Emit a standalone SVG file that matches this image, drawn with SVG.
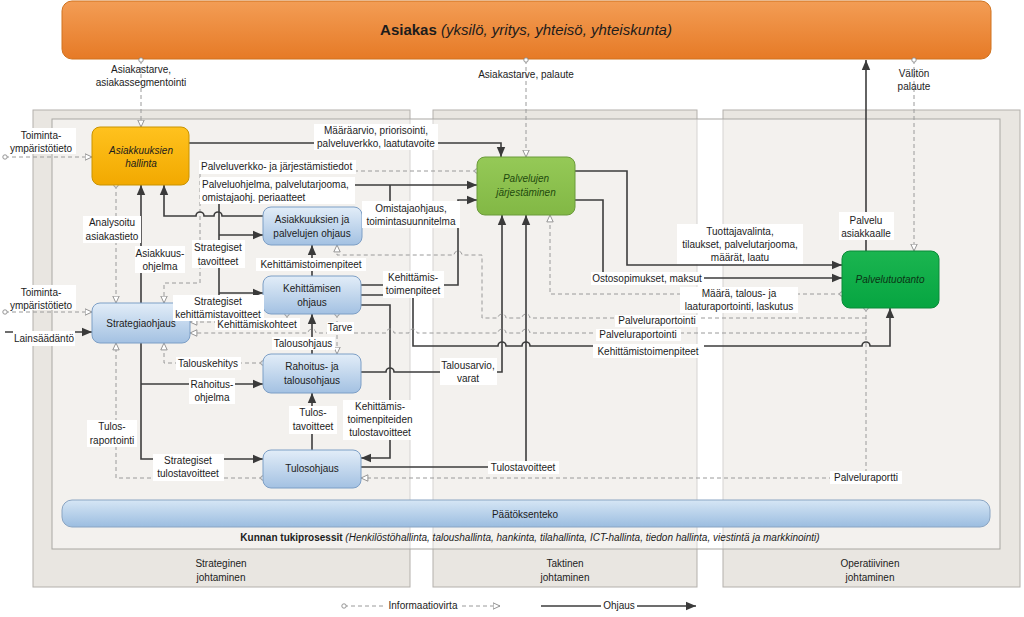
<svg xmlns="http://www.w3.org/2000/svg" width="1024" height="617" viewBox="0 0 1024 617">
<style>
text{font-family:"Liberation Sans",Arial,sans-serif;font-size:10px;fill:#1c1c1c;text-anchor:middle}
.st{text-anchor:start}
.c{fill:none;stroke:#3d3d3d;stroke-width:1.6;marker-end:url(#ah)}
.cn{fill:none;stroke:#3d3d3d;stroke-width:1.6}
.d{fill:none;stroke:#9a9a9a;stroke-width:1;stroke-dasharray:4 3;marker-start:url(#oc);marker-end:url(#ot)}
.de{fill:none;stroke:#9a9a9a;stroke-width:1;stroke-dasharray:4 3;marker-end:url(#ot)}
.lb{fill:#fff}
.bn{fill:url(#gb);stroke:#7d9fc6;stroke-width:1}
.it{font-style:italic}
</style>
<defs>
<marker id="ah" viewBox="0 0 10 10" refX="10" refY="5" markerWidth="10" markerHeight="10" markerUnits="userSpaceOnUse" orient="auto"><path d="M0,0.8 L10,5 L0,9.2 z" fill="#3a3a3a"/></marker>
<marker id="ot" viewBox="0 0 8 8" refX="7.5" refY="4" markerWidth="8" markerHeight="8" markerUnits="userSpaceOnUse" orient="auto"><path d="M0.6,0.8 L7.5,4 L0.6,7.2 z" fill="#fff" stroke="#8a8a8a" stroke-width="0.9"/></marker>
<marker id="oc" viewBox="0 0 6 6" refX="3" refY="3" markerWidth="6" markerHeight="6" markerUnits="userSpaceOnUse"><circle cx="3" cy="3" r="2.2" fill="#fff" stroke="#8a8a8a" stroke-width="0.9"/></marker>
<linearGradient id="go" x1="0" y1="0" x2="0" y2="1"><stop offset="0" stop-color="#f39d55"/><stop offset="1" stop-color="#e67a26"/></linearGradient>
<linearGradient id="gb" x1="0" y1="0" x2="0" y2="1"><stop offset="0" stop-color="#e2edf8"/><stop offset="1" stop-color="#a3c1e2"/></linearGradient>
<linearGradient id="gp" x1="0" y1="0" x2="0" y2="1"><stop offset="0" stop-color="#d6e6f5"/><stop offset="1" stop-color="#9bbde0"/></linearGradient>
<linearGradient id="gy" x1="0" y1="0" x2="0" y2="1"><stop offset="0" stop-color="#ffc21e"/><stop offset="1" stop-color="#f2a900"/></linearGradient>
<linearGradient id="gl" x1="0" y1="0" x2="0" y2="1"><stop offset="0" stop-color="#95c957"/><stop offset="1" stop-color="#82b845"/></linearGradient>
<linearGradient id="gg" x1="0" y1="0" x2="0" y2="1"><stop offset="0" stop-color="#1bb550"/><stop offset="1" stop-color="#06a541"/></linearGradient>
</defs>
<rect width="1024" height="617" fill="#fff"/>
<g id="panels">
<rect x="33" y="110" width="377" height="477" fill="#e9e6e1" stroke="#b3b0ab"/>
<rect x="433" y="110" width="264" height="477" fill="#e9e6e1" stroke="#b3b0ab"/>
<rect x="723" y="110" width="297" height="477" fill="#e9e6e1" stroke="#b3b0ab"/>
<rect x="52" y="119" width="948" height="430" fill="#fff" fill-opacity="0.45" stroke="#a9a7a3"/>
<text x="221" y="567">Strateginen</text><text x="221" y="581">johtaminen</text>
<text x="565" y="567">Taktinen</text><text x="565" y="581">johtaminen</text>
<text x="870" y="567">Operatiivinen</text><text x="870" y="581">johtaminen</text>
<text x="530" y="541" style="font-size:10px"><tspan font-weight="bold">Kunnan tukiprosessit</tspan><tspan class="it"> (Henkilöstöhallinta, taloushallinta, hankinta, tilahallinta, ICT-hallinta, tiedon hallinta, viestintä ja markkinointi)</tspan></text>
</g>
<g id="asiakas">
<rect x="62" y="1" width="929" height="58" rx="10" fill="url(#go)" stroke="#d0731f"/>
<text x="526" y="35" style="font-size:15px"><tspan font-weight="bold">Asiakas</tspan><tspan class="it"> (yksilö, yritys, yhteisö, yhteiskunta)</tspan></text>
</g>
<g id="paatoksenteko">
<rect x="62" y="500" width="928" height="27" rx="10" fill="url(#gp)" stroke="#8aa5c3"/>
<text x="525" y="518">Päätöksenteko</text>
</g>
<g id="connectors">
<path class="d" d="M141,60 V127"/>
<path class="d" d="M526,60 V157"/>
<path class="d" d="M914,60 V251"/>
<path class="c" d="M866,251 V60"/>
<path class="d" d="M5,157 H92"/>
<path class="d" d="M5,312 H92"/>
<path class="c" d="M5,332 H92"/>
<path class="c" d="M189,143 H501 V157"/>
<path class="d" d="M477,171 H200 V283 H164 V303"/>
<path class="d" d="M116,185 V303"/>
<path class="c" d="M141,303 V185"/>
<path class="c" d="M263,216 H222 a4,4 0 0 0 -8,0 H204 a4,4 0 0 0 -8,0 H164 V185"/>
<path class="c" d="M190,316 H219 V185 H477"/>
<path class="c" d="M219,235 H263"/>
<path class="c" d="M219,293 H263"/>
<path class="cn" d="M362,226 H390 V185"/>
<path class="c" d="M361,285 H458 V200 H477"/>
<path class="c" d="M312,276 V245"/>
<path class="c" d="M312,354 V314"/>
<path class="c" d="M312,450 V393"/>
<path class="d" d="M287,314 V322 H190"/>
<path class="d" d="M337,314 V354"/>
<path class="d" d="M263,363 H164 V343"/>
<path class="d" d="M263,478 H116 V343"/>
<path class="c" d="M141,343 V459 H263"/>
<path class="c" d="M141,384 H263"/>
<path class="c" d="M361,305 H390 V458 H361"/>
<path class="c" d="M361,295 H413 V346 H498 a4,4 0 0 1 8,0 H522 a4,4 0 0 1 8,0 H862 a4,4 0 0 1 8,0 H890 V308"/>
<path class="c" d="M361,372 H386 a4,4 0 0 1 8,0 H502 V215"/>
<path class="c" d="M361,467 H526 V215"/>
<path class="c" d="M575,171 H627 V265 H842"/>
<path class="c" d="M575,200 H603 V278 H842"/>
<path class="d" d="M842,294 H550 V215"/>
<path class="d" d="M866,308 V478 H361"/>
<path class="de" d="M866,318 H530 a4,4 0 0 0 -8,0 H506 a4,4 0 0 0 -8,0 H482 V255 H462 a4,4 0 0 0 -8,0 H337 V245"/>
<path class="de" d="M866,333 H530 a4,4 0 0 0 -8,0 H506 a4,4 0 0 0 -8,0 H417 a4,4 0 0 0 -8,0 H394 a4,4 0 0 0 -8,0 H316 a4,4 0 0 0 -8,0 H190"/>
</g>
<g id="asiakkuuksien-hallinta">
<rect x="92" y="127" width="97" height="58" rx="8" fill="url(#gy)" stroke="#c99300"/>
<text x="141" y="154" class="it">Asiakkuuksien</text><text x="141" y="167" class="it">hallinta</text>
</g>
<g id="palvelujen-jarjestaminen">
<rect x="477" y="157" width="98" height="58" rx="8" fill="url(#gl)" stroke="#6b9b3a"/>
<text x="526" y="182" class="it" style="fill:#1f4a0e">Palvelujen</text><text x="526" y="196" class="it" style="fill:#1f4a0e">järjestäminen</text>
</g>
<g id="palvelutuotanto">
<rect x="842" y="251" width="97" height="57" rx="8" fill="url(#gg)" stroke="#0a8a38"/>
<text x="890" y="283" class="it" style="fill:#0b3315">Palvelutuotanto</text>
</g>
<g id="strategiaohjaus">
<rect x="92" y="303" width="98" height="40" rx="8" class="bn"/>
<text x="141" y="327">Strategiaohjaus</text>
</g>
<g id="asiakkuuksien-ja-palvelujen-ohjaus">
<rect x="263" y="207" width="99" height="38" rx="8" class="bn"/>
<text x="312" y="223">Asiakkuuksien ja</text><text x="312" y="237">palvelujen ohjaus</text>
</g>
<g id="kehittamisen-ohjaus">
<rect x="263" y="276" width="98" height="38" rx="8" class="bn"/>
<text x="312" y="292">Kehittämisen</text><text x="312" y="306">ohjaus</text>
</g>
<g id="rahoitus-ja-talousohjaus">
<rect x="263" y="354" width="98" height="39" rx="8" class="bn"/>
<text x="312" y="370">Rahoitus- ja</text><text x="312" y="384">talousohjaus</text>
</g>
<g id="tulosohjaus">
<rect x="263" y="450" width="98" height="38" rx="8" class="bn"/>
<text x="312" y="472">Tulosohjaus</text>
</g>
<g id="labels">
<text x="141" y="73">Asiakastarve,</text><text x="141" y="86">asiakassegmentointi</text>
<text x="526" y="78">Asiakastarve, palaute</text>
<text x="914" y="77">Välitön</text><text x="914" y="90">palaute</text>
<rect class="lb" x="839" y="212" width="55" height="28"/><text x="866" y="224">Palvelu</text><text x="866" y="237">asiakkaalle</text>
<rect class="lb" x="7" y="128" width="69" height="26"/><text x="41" y="139">Toiminta-</text><text x="41" y="152">ympäristötieto</text>
<rect class="lb" x="7" y="285" width="69" height="25"/><text x="41" y="296">Toiminta-</text><text x="41" y="309">ympäristötieto</text>
<rect class="lb" x="13" y="331" width="62" height="15"/><text x="44" y="342">Lainsäädäntö</text>
<rect class="lb" x="314" y="124" width="124" height="26"/><text x="376" y="134">Määräarvio, priorisointi,</text><text x="376" y="147">palveluverkko, laatutavoite</text>
<rect class="lb" x="199" y="160" width="157" height="14"/><text x="201" y="170" class="st">Palveluverkko- ja järjestämistiedot</text>
<rect class="lb" x="200" y="177" width="155" height="27"/><text x="202" y="188" class="st">Palveluohjelma, palvelutarjooma,</text><text x="202" y="201" class="st">omistajaohj. periaatteet</text>
<rect class="lb" x="362" y="201" width="98" height="27"/><text x="411" y="212">Omistajaohjaus,</text><text x="411" y="225">toimintasuunnitelma</text>
<rect class="lb" x="83" y="216" width="58" height="27"/><text x="112" y="226">Analysoitu</text><text x="112" y="240">asiakastieto</text>
<rect class="lb" x="135" y="246" width="50" height="27"/><text x="160" y="257">Asiakkuus-</text><text x="160" y="270">ohjelma</text>
<rect class="lb" x="192" y="240" width="53" height="28"/><text x="218" y="251">Strategiset</text><text x="218" y="265">tavoitteet</text>
<rect class="lb" x="256" y="258" width="110" height="13"/><text x="311" y="268">Kehittämistoimenpiteet</text>
<rect class="lb" x="383" y="271" width="61" height="27"/><text x="413" y="281">Kehittämis-</text><text x="413" y="294">toimenpiteet</text>
<rect class="lb" x="173" y="295" width="91" height="26"/><text x="218" y="305">Strategiset</text><text x="218" y="318">kehittämistavoitteet</text>
<rect class="lb" x="215" y="318" width="85" height="12"/><text x="257" y="328">Kehittämiskohteet</text>
<rect class="lb" x="327" y="322" width="27" height="12"/><text x="340" y="331">Tarve</text>
<rect class="lb" x="272" y="337" width="63" height="13"/><text x="303" y="347">Talousohjaus</text>
<rect class="lb" x="176" y="357" width="65" height="13"/><text x="208" y="367">Talouskehitys</text>
<rect class="lb" x="189" y="378" width="46" height="26"/><text x="212" y="388">Rahoitus-</text><text x="212" y="401">ohjelma</text>
<rect class="lb" x="440" y="358" width="57" height="27"/><text x="468" y="369">Talousarvio,</text><text x="468" y="382">varat</text>
<rect class="lb" x="289" y="406" width="48" height="28"/><text x="313" y="416">Tulos-</text><text x="313" y="430">tavoitteet</text>
<rect class="lb" x="343" y="400" width="74" height="40"/><text x="380" y="410">Kehittämis-</text><text x="380" y="423">toimenpiteiden</text><text x="380" y="436">tulostavoitteet</text>
<rect class="lb" x="87" y="420" width="50" height="27"/><text x="112" y="430">Tulos-</text><text x="112" y="444">raportointi</text>
<rect class="lb" x="153" y="454" width="71" height="27"/><text x="188" y="464">Strategiset</text><text x="188" y="477">tulostavoitteet</text>
<rect class="lb" x="488" y="461" width="71" height="13"/><text x="523" y="471">Tulostavoitteet</text>
<rect class="lb" x="830" y="471" width="72" height="13"/><text x="866" y="481">Palveluraportti</text>
<rect class="lb" x="677" y="224" width="126" height="40"/><text x="740" y="235">Tuottajavalinta,</text><text x="740" y="248">tilaukset, palvelutarjooma,</text><text x="740" y="261">määrät, laatu</text>
<rect class="lb" x="591" y="272" width="113" height="13"/><text x="647" y="282">Ostosopimukset, maksut</text>
<rect class="lb" x="680" y="287" width="118" height="26"/><text x="739" y="297">Määrä, talous- ja</text><text x="739" y="310">laaturaportointi, laskutus</text>
<rect class="lb" x="615" y="315" width="85" height="12"/><text x="657" y="324">Palveluraportointi</text>
<rect class="lb" x="596" y="329" width="85" height="12"/><text x="638" y="338">Palveluraportointi</text>
<rect class="lb" x="593" y="344" width="111" height="14"/><text x="648" y="355">Kehittämistoimenpiteet</text>
</g>
<g id="legend">
<path class="d" d="M344,606 H384" style="marker-end:none"/>
<text x="423" y="609">Informaatiovirta</text>
<path class="de" d="M462,606 H500"/>
<path class="cn" d="M541,606 H601"/>
<text x="619" y="609">Ohjaus</text>
<path class="c" d="M637,606 H696"/>
</g>
</svg>
